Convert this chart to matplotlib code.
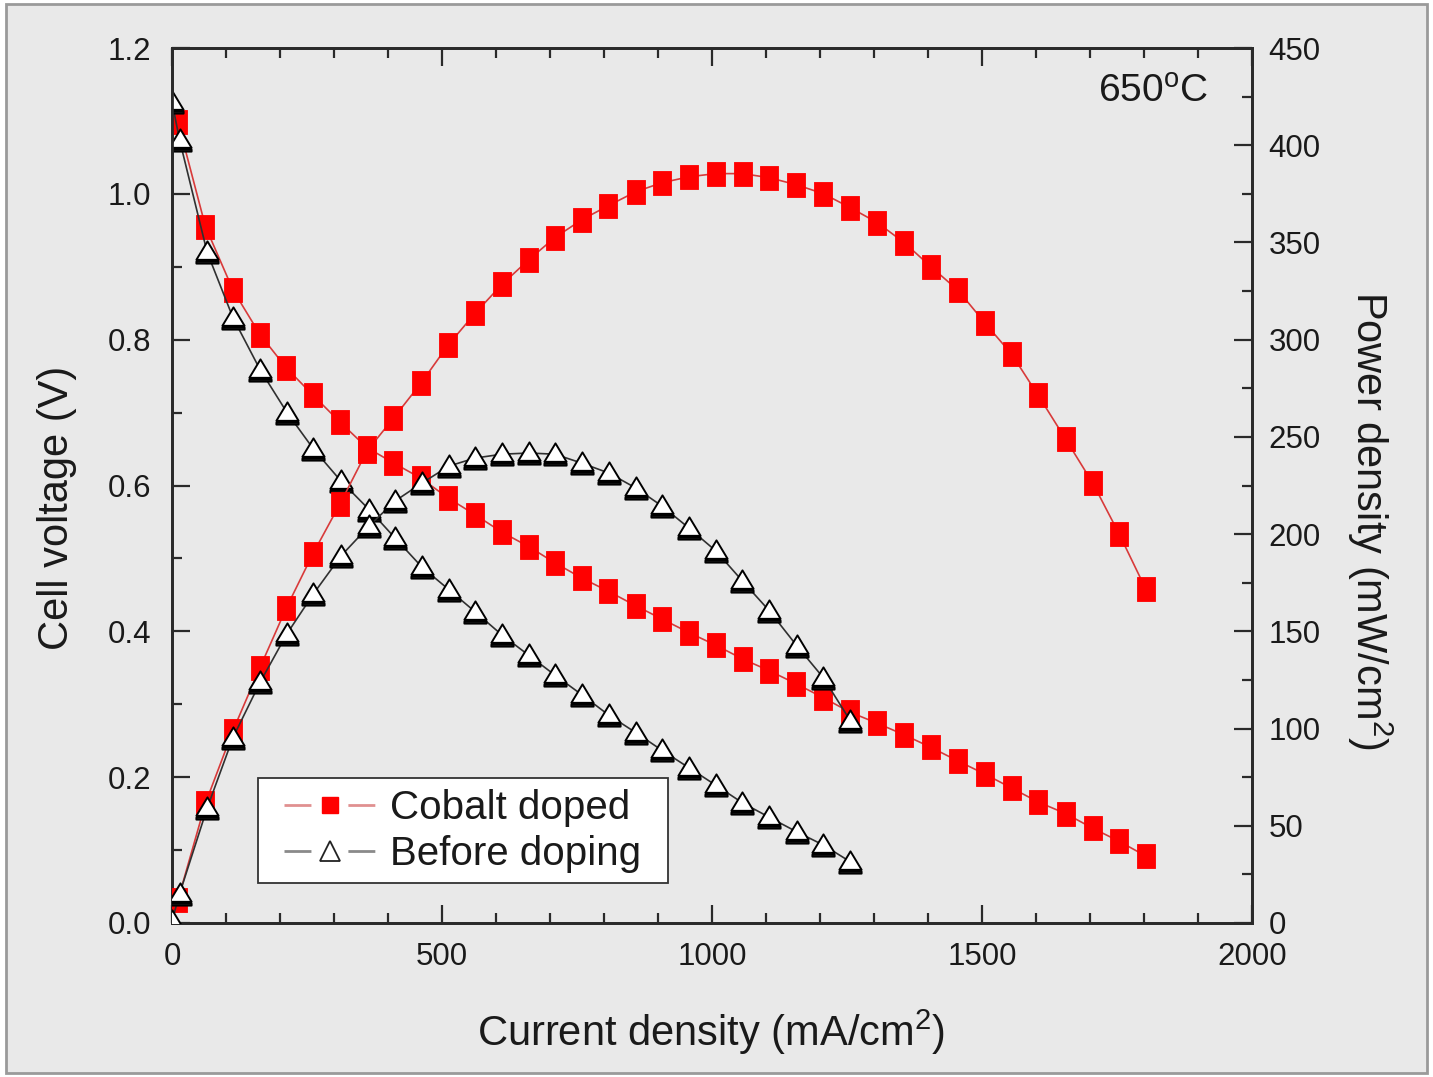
import matplotlib
matplotlib.use('Agg')
import matplotlib.pyplot as plt
from matplotlib.path import Path
from matplotlib.lines import Line2D
from matplotlib.patches import Rectangle
from matplotlib.ticker import MultipleLocator

plt.rcParams['font.family'] = ['Liberation Sans', 'DejaVu Sans']
plt.rcParams['mathtext.fontset'] = 'custom'
plt.rcParams['mathtext.rm'] = 'Liberation Sans'
plt.rcParams['mathtext.it'] = 'Liberation Sans:italic'
plt.rcParams['lines.scale_dashes'] = False

# ---------------- data ----------------
cobalt_current = [11, 62, 113, 163, 212, 261, 311, 361, 410, 461, 511, 561, 611,
                  661, 709, 759, 808, 859, 907, 958, 1007, 1057, 1106, 1156, 1206,
                  1256, 1306, 1356, 1405, 1456, 1506, 1555, 1604, 1655, 1705, 1754, 1803]
cobalt_voltage = [1.099, 0.955, 0.868, 0.807, 0.761, 0.724, 0.687, 0.652, 0.631, 0.610,
                  0.583, 0.560, 0.536, 0.516, 0.494, 0.473, 0.455, 0.435, 0.417, 0.398,
                  0.381, 0.362, 0.346, 0.328, 0.309, 0.289, 0.274, 0.258, 0.241, 0.222,
                  0.204, 0.185, 0.166, 0.150, 0.130, 0.112, 0.092]
cobalt_power = [11.8, 61.6, 99.0, 131.4, 162.2, 189.9, 215.5, 242.7, 259.6, 277.6,
                297.1, 313.5, 328.4, 341.2, 352.5, 361.7, 368.9, 376.1, 380.7, 383.8,
                385.4, 385.4, 383.3, 379.7, 375.1, 367.9, 360.2, 349.9, 337.6, 325.3,
                308.4, 292.5, 271.4, 248.8, 226.3, 200.1, 171.9]

before_current = [0, 14, 65, 113, 163, 213, 262, 313, 365, 413, 463, 513, 561, 611,
                  661, 709, 759, 809, 859, 907, 957, 1007, 1056, 1106, 1157, 1206, 1256]
before_voltage = [1.126, 1.074, 0.920, 0.830, 0.759, 0.700, 0.650, 0.606, 0.567, 0.528,
                  0.488, 0.457, 0.427, 0.395, 0.367, 0.340, 0.313, 0.285, 0.261, 0.237,
                  0.213, 0.189, 0.165, 0.145, 0.125, 0.107, 0.084]
before_power = [1.0, 15.0, 59.0, 95.4, 123.7, 148.8, 169.3, 188.8, 204.2, 217.0,
                226.3, 235.0, 239.1, 241.1, 241.7, 241.1, 236.5, 231.4, 223.7, 214.5,
                203.2, 191.4, 176.0, 160.6, 142.6, 126.2, 104.1]

series_labels = ['Cobalt doped', 'Before doping']
x_label = 'Current density (mA/cm$^{2}$)'
y_label = 'Cell voltage (V)'
y2_label = 'Power density (mW/cm$^{2}$)'
temp_label = '650$^{\\mathrm{o}}$C'

# ---------------- styling ----------------
BG = '#e9e9e9'
SPINE = '#2a2a2a'
RED = '#ff0000'
RED_LINE = '#d83a3a'
BLK_LINE = '#303030'
TXT = '#1a1a1a'

rect_marker = Path([(-0.4, -0.5), (0.4, -0.5), (0.4, 0.5), (-0.4, 0.5), (-0.4, -0.5)],
                   [Path.MOVETO, Path.LINETO, Path.LINETO, Path.LINETO, Path.CLOSEPOLY])
# open triangle with a dark bar under its base (as in the scanned original)
tri_marker = Path([(0, 0.5), (-0.5, -0.33), (0.5, -0.33), (0, 0.5),
                   (-0.5, -0.41), (0.5, -0.41), (0.5, -0.5), (-0.5, -0.5), (-0.5, -0.41)],
                  [Path.MOVETO, Path.LINETO, Path.LINETO, Path.CLOSEPOLY,
                   Path.MOVETO, Path.LINETO, Path.LINETO, Path.LINETO, Path.CLOSEPOLY])

fig = plt.figure(figsize=(14.33, 10.77), dpi=100, facecolor='white')
fig.patches.append(Rectangle((0.004, 0.004), 0.992, 0.992, transform=fig.transFigure,
                             facecolor=BG, edgecolor='#9a9a9a', lw=2, zorder=-10))

ax = fig.add_axes([0.12003, 0.14299, 0.75366, 0.81244])
ax2 = ax.twinx()
ax.patch.set_visible(False)
ax2.patch.set_visible(False)

sq_kw = dict(color=RED_LINE, lw=1.2, marker=rect_marker, ms=17, mfc=RED, mec=RED,
             mew=0.6, zorder=3)
tr_kw = dict(color=BLK_LINE, lw=1.2, marker=tri_marker, ms=16, mfc='white',
             mec='black', mew=1.4, zorder=4)

# voltage curves
ax.plot(cobalt_current, cobalt_voltage, **sq_kw)
ax.plot(before_current, before_voltage, **tr_kw)
# power curves
ax2.plot(cobalt_current, cobalt_power, **sq_kw)
ax2.plot(before_current, before_power, **tr_kw)

ax.set_xlim(0, 2000)
ax.set_ylim(0, 1.2)
ax2.set_ylim(0, 450)

ax.xaxis.set_major_locator(MultipleLocator(500))
ax.xaxis.set_minor_locator(MultipleLocator(100))
ax.yaxis.set_major_locator(MultipleLocator(0.2))
ax.yaxis.set_minor_locator(MultipleLocator(0.1))
ax2.yaxis.set_major_locator(MultipleLocator(50))
ax2.yaxis.set_minor_locator(MultipleLocator(25))
ax.yaxis.set_major_formatter(matplotlib.ticker.FormatStrFormatter('%.1f'))

for a in (ax, ax2):
    for s in a.spines.values():
        s.set_linewidth(2.0)
        s.set_color(SPINE)

ax.tick_params(axis='x', which='both', direction='in', top=True, bottom=True,
               colors=SPINE, labelcolor=TXT)
ax.tick_params(axis='y', which='both', direction='in', left=True, right=False,
               colors=SPINE, labelcolor=TXT)
ax2.tick_params(axis='y', which='both', direction='in', left=False, right=True,
                colors=SPINE, labelcolor=TXT)
for a in (ax, ax2):
    a.tick_params(which='major', length=13, width=1.6, labelsize=22.5)
    a.tick_params(which='minor', length=7, width=1.6)
ax.tick_params(axis='x', pad=14)
ax.tick_params(axis='y', pad=15)
ax2.tick_params(axis='y', pad=12)

# axis labels
ax.text(0.499, -0.125, x_label, transform=ax.transAxes, ha='center', va='center',
        fontsize=30, color=TXT)
ax.text(-0.1065, 0.474, y_label, transform=ax.transAxes, ha='center', va='center',
        rotation=90, fontsize=30, color=TXT)
ax.text(1.109, 0.46, y2_label, transform=ax.transAxes, ha='center', va='center',
        rotation=270, fontsize=30, color=TXT)

ax2.text(0.959, 0.95, temp_label, transform=ax.transAxes, ha='right', va='center',
         fontsize=28, color=TXT)

# legend
ax2.add_patch(Rectangle((0.0796, 0.0457), 0.3796, 0.12, transform=ax.transAxes,
                        facecolor='white', edgecolor='#333333', lw=1.3, zorder=8))
handles = [
    Line2D([], [], color='#e09090', lw=2.0, linestyle=(0, (19.4, 26.6)),
           marker='s', ms=11, mfc=RED, mec=RED),
    Line2D([], [], color='#8a8a8a', lw=2.0, linestyle=(0, (19.4, 26.6)),
           marker='^', ms=15, mfc='white', mec='#222222', mew=1.3),
]
leg = ax2.legend(handles, series_labels, loc='center left',
                 bbox_to_anchor=(0.1037, 0.105), frameon=False, fontsize=29,
                 handlelength=2.3, handletextpad=0.33, borderpad=0,
                 borderaxespad=0, labelspacing=0.18)
leg.set_zorder(9)
for t in leg.get_texts():
    t.set_color(TXT)

fig.savefig('out.png', dpi=100, facecolor=fig.get_facecolor())
